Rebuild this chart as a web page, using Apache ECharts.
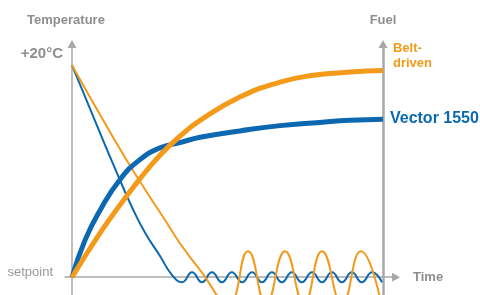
<!DOCTYPE html>
<html>
<head>
<meta charset="utf-8">
<style>
    html, body { margin: 0; padding: 0; background: #fff; }
    #chart { width: 480px; height: 295px; }
</style>
</head>
<body>
<div id="chart"></div>
<script src="https://cdn.jsdelivr.net/npm/echarts@6/dist/echarts.min.js"></script>
<script type="text/javascript">
    // [time, value] pairs; 0 = setpoint, 20 = +20°C
    var vectorTemp = [[0, 20], [10.0, 12.9], [14.5, 9.8], [19.3, 6.6], [23.5, 4.2], [28.3, 2.0], [32.2, 0.2],
        [35.4, -0.47], [38.6, 0.47], [41.8, -0.47], [45.0, 0.47], [48.2, -0.47], [51.4, 0.47],
        [54.7, -0.47], [57.9, 0.47], [61.1, -0.47], [64.3, 0.47], [67.5, -0.47], [70.7, 0.47],
        [73.9, -0.47], [77.2, 0.47], [80.4, -0.47], [83.6, 0.47], [86.8, -0.47], [90.0, 0.47],
        [93.2, -0.47], [96.5, 0.47], [99.7, -0.47]];
    var beltTemp = [[0, 20], [13.8, 12.9], [21.9, 9.0], [29.9, 5.4], [34.7, 3.2], [41.2, 0.66],
        [50.2, -2.45], [56.6, 2.45], [62.4, -2.45], [68.5, 2.45], [74.6, -2.45], [80.4, 2.45],
        [86.8, -2.45], [92.9, 2.45], [99.4, -2.45]];
    var vectorFuel = [[0, 0], [4.2, 3.5], [9.0, 6.3], [15.4, 9.2], [21.9, 11.1], [28.3, 12.2], [34.7, 12.7],
        [41.2, 13.2], [54.0, 13.8], [66.9, 14.3], [79.7, 14.6], [89.4, 14.8], [100, 14.9]];
    var beltFuel = [[0, 0], [9.0, 4.15], [15.4, 6.8], [21.9, 9.3], [28.3, 11.5], [34.7, 13.3], [41.2, 14.8],
        [54.0, 17.0], [66.9, 18.4], [76.5, 19.0], [89.4, 19.35], [100, 19.5]];

    var seriesNames = ['Vector 1550', 'Belt-driven'];
    var tempTickValues = [0, 20];
    var tempTickLabels = ['setpoint', '+20°C'];
    var axisNames = ['Temperature', 'Fuel', 'Time'];

    var blue = '#0b68b1';
    var orange = '#f39a1b';
    var grey = '#a8a8a8';
    var textGrey = '#8e8e8e';

    var chart = echarts.init(document.getElementById('chart'));
    chart.setOption({
        animation: false,
        textStyle: { fontFamily: 'Liberation Sans' },
        grid: { left: 65, top: 44, width: 331, height: 254.4, outerBoundsMode: 'none', containLabel: false },
        xAxis: {
            type: 'value',
            min: -2.25,
            max: 104.2,
            name: axisNames[2],
            nameLocation: 'end',
            nameGap: 17,
            nameTextStyle: { color: textGrey, fontSize: 13, fontWeight: 'bold', padding: [0, 0, 8, 0] },
            axisLine: { onZero: true, symbol: ['none', 'triangle'], symbolSize: [9, 8],
                lineStyle: { color: grey, width: 1.5 } },
            axisTick: { show: false },
            axisLabel: { show: false },
            splitLine: { show: false }
        },
        yAxis: [{
            type: 'value',
            min: -2,
            max: 22,
            name: axisNames[0],
            nameLocation: 'end',
            nameGap: 17,
            nameTextStyle: { color: textGrey, fontSize: 13, fontWeight: 'bold', padding: [0, 12, 0, 0] },
            axisLine: { show: true, onZero: true, symbol: ['none', 'triangle'], symbolSize: [9, 8],
                lineStyle: { color: grey, width: 1.5 } },
            axisTick: { show: false },
            splitLine: { show: false },
            axisLabel: {
                customValues: tempTickValues,
                margin: 2,
                formatter: function (v) {
                    var i = tempTickValues.indexOf(v);
                    if (i === 0) return '{b|' + tempTickLabels[0] + '}';
                    if (i === 1) return '{a|' + tempTickLabels[1] + '}';
                    return '';
                },
                rich: {
                    a: { fontSize: 15, fontWeight: 'bold', color: textGrey, padding: [0, 0, 22, 0] },
                    b: { fontSize: 13, color: '#9a9a9a', padding: [0, 10, 10, 0] }
                }
            }
        }, {
            type: 'value',
            min: -2,
            max: 22,
            position: 'right',
            offset: -13,
            name: axisNames[1],
            nameLocation: 'end',
            nameGap: 17,
            nameTextStyle: { color: textGrey, fontSize: 13, fontWeight: 'bold' },
            axisLine: { show: true, onZero: false, symbol: ['none', 'triangle'], symbolSize: [9, 8],
                lineStyle: { color: grey, width: 2.5 } },
            axisTick: { show: false },
            axisLabel: { show: false },
            splitLine: { show: false }
        }],
        series: [
            {
                type: 'line', data: vectorTemp, smooth: true, symbol: 'none',
                lineStyle: { color: blue, width: 2 }
            },
            {
                type: 'line', data: beltTemp, smooth: true, symbol: 'none',
                lineStyle: { color: orange, width: 2 }
            },
            {
                name: seriesNames[0], type: 'line', yAxisIndex: 1, data: vectorFuel, smooth: true, symbol: 'none',
                lineStyle: { color: blue, width: 5 },
                endLabel: { show: true, formatter: '{a}', color: blue, fontSize: 16, fontWeight: 'bold',
                    distance: 7, offset: [0, -1] }
            },
            {
                name: seriesNames[1], type: 'line', yAxisIndex: 1, data: beltFuel, smooth: true, symbol: 'none',
                lineStyle: { color: orange, width: 5 },
                endLabel: { show: true, color: orange, fontSize: 13, fontWeight: 'bold', lineHeight: 15,
                    distance: 10, offset: [0, -15],
                    formatter: function (p) { return p.seriesName.replace('-', '-\n'); } }
            }
        ]
    });
</script>
</body>
</html>
